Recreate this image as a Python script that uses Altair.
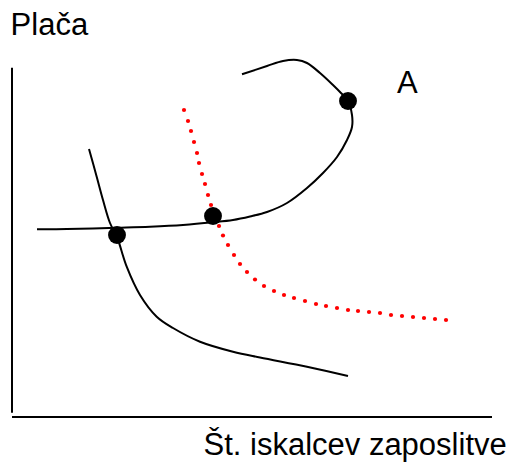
import altair as alt
import pandas as pd

# Axis units: x = number of job seekers, y = wage (origin at the axes corner)

# Backward-bending labour supply curve (in drawing order)
supply_x = [25, 55, 105, 138, 171, 201, 221, 238, 255, 275, 295, 311, 325, 335, 340, 340,
            336, 328, 321, 308, 295, 285, 271, 255, 230]
supply_y = [187.7, 188, 189.3, 190.3, 192, 194.7, 197, 200.5, 205, 214, 229, 244, 260, 277,
            290, 302, 316, 325, 332, 344, 354, 357, 356, 351, 342.7]

# Downward-sloping curve
demand_x = [77, 84.7, 91, 98, 105, 114.7, 128, 144.7, 161, 188, 221, 248, 295, 336]
demand_y = [268, 240.3, 217, 194, 180, 150.3, 122, 100.3, 89, 75.3, 65.3, 59.5, 50.3, 41]

# Red dotted curve (each dot)
red_x = [172, 176, 179, 182, 185, 187, 190, 193, 196, 199, 202, 207, 211, 216, 222, 228, 235,
         243, 252, 262, 272, 282, 293, 304, 314, 325, 336, 346, 357, 368, 379, 390, 401, 412,
         423, 434]
red_y = [307, 296, 286, 275, 264, 254, 243, 233, 222, 212, 201, 191, 181.5, 172, 162, 153, 145,
         137.5, 131, 126, 122, 119, 116, 113, 111, 109, 107, 106, 105, 104, 102, 101, 100, 99,
         98, 97]

# Equilibrium points
eq_x = [105, 201, 336]
eq_y = [182, 201, 316]

# Axis lines
axis_x = [0, 0, 0, 480]
axis_seg = ["v", "v", "h", "h"]
axis_y = [4.3, 349.3, 0, 0]

# Text labels
label_text = ["Plača", "A", "Št. iskalcev zaposlitve"]
label_x = [-1.4, 385, 191.5]
label_y = [382, 324, -38]
label_size = [31, 31, 31]

W, H = 503, 454
XS = alt.Scale(domain=[-4, -4 + W], nice=False, zero=False)
YS = alt.Scale(domain=[409 - H, 409], nice=False, zero=False)

sup = pd.DataFrame({"x": supply_x, "y": supply_y, "o": range(len(supply_x))})
dem = pd.DataFrame({"x": demand_x, "y": demand_y, "o": range(len(demand_x))})
red = pd.DataFrame({"x": red_x, "y": red_y})
eq = pd.DataFrame({"x": eq_x, "y": eq_y})
ax = pd.DataFrame({"x": axis_x, "y": axis_y, "seg": axis_seg, "o": range(4)})
lab = pd.DataFrame({"t": label_text, "x": label_x, "y": label_y, "s": label_size})

X = lambda: alt.X("x:Q", scale=XS, axis=None)
Y = lambda: alt.Y("y:Q", scale=YS, axis=None)

axes = alt.Chart(ax).mark_line(color="black", strokeWidth=2).encode(
    x=X(), y=Y(), detail="seg:N", order="o:Q")

supply = alt.Chart(sup).mark_line(color="black", strokeWidth=2, interpolate="catmull-rom").encode(
    x=X(), y=Y(), order="o:Q")

demand = alt.Chart(dem).mark_line(color="black", strokeWidth=2, interpolate="catmull-rom").encode(
    x=X(), y=Y(), order="o:Q")

reddots = alt.Chart(red).mark_circle(color="#ff0000", opacity=1, size=18).encode(x=X(), y=Y())

eqdots = alt.Chart(eq).mark_circle(color="black", opacity=1, size=320).encode(x=X(), y=Y())

labels = alt.Chart(lab).mark_text(
    align="left", baseline="alphabetic", font="Liberation Sans", color="black"
).encode(x=X(), y=Y(), text="t:N",
         size=alt.Size("s:Q", scale=None, legend=None))

chart = alt.layer(axes, supply, demand, reddots, eqdots, labels).properties(
    width=W, height=H, padding=0, autosize=alt.AutoSizeParams(type="none")
).configure_view(stroke=None)

chart.save("out.html", embed_options={"renderer": "svg", "actions": False})
